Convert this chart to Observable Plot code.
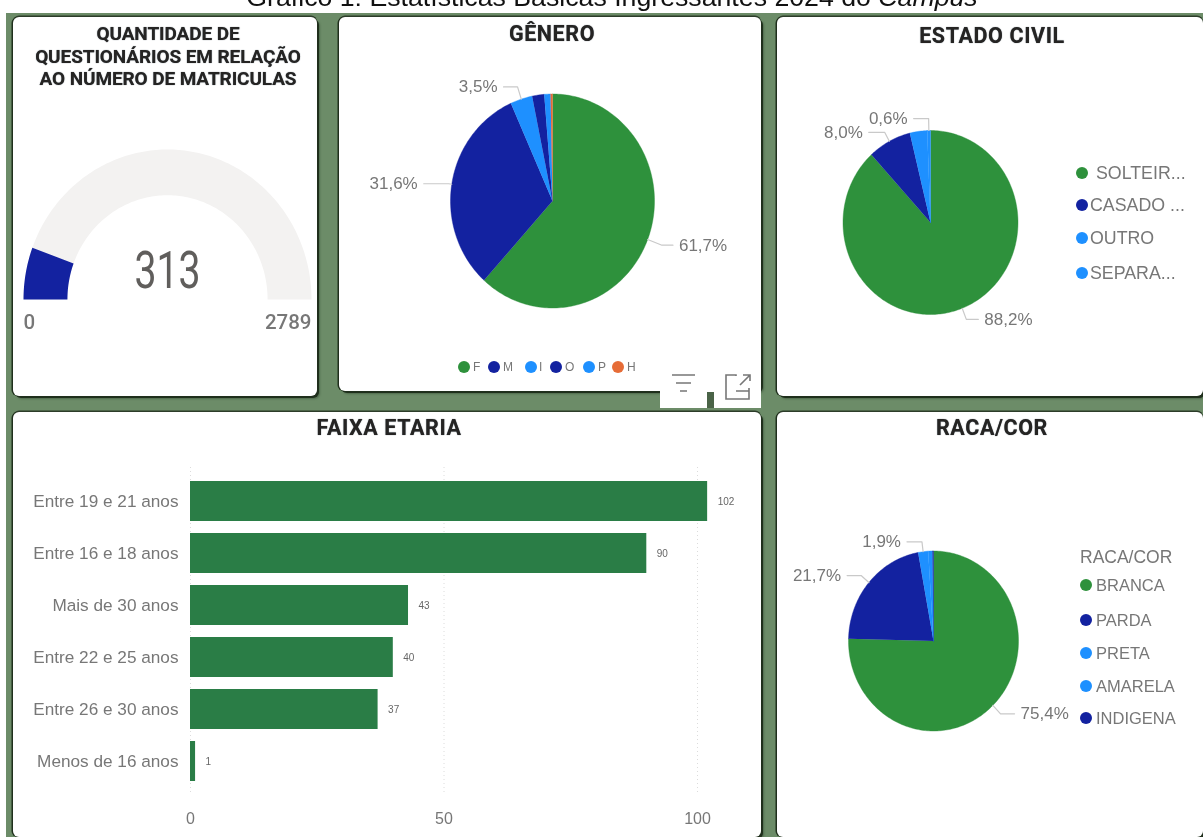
<!DOCTYPE html>
<html lang="pt-BR">
<head>
<meta charset="utf-8">
<script src="https://cdn.jsdelivr.net/npm/d3@7"></script>
<script src="https://cdn.jsdelivr.net/npm/@observablehq/plot@0.6"></script>
<style>
html,body{margin:0;padding:0;background:#fff;overflow:hidden}
#page{position:relative;width:1203px;height:837px;overflow:hidden;font-family:"Liberation Sans",Arial,sans-serif;filter:blur(.45px)}
#heading{position:absolute;left:0;width:1224px;top:-18px;text-align:center;font-size:26.7px;line-height:30px;color:#111;white-space:nowrap}
#frame{position:absolute;left:6px;top:13px;right:0;bottom:0;background:#6c8c68}
.panel{position:absolute;background:#fff;border-radius:6px;box-shadow:-1.5px 0 0 #1f2f1c,0 -1.5px 0 #2c3c29,2px 2px 0 #1f2f1c,3px 3px 2px #4f6a4c;overflow:hidden}
.panel svg{position:absolute;left:0;top:0;overflow:visible}
.ttl{position:absolute;left:4px;right:0;text-align:center;font-family:Roboto,sans-serif;font-weight:700;color:#252423;font-size:21.5px;letter-spacing:.6px;line-height:22px;white-space:pre;text-shadow:0 0 1px #55606a}
.ld{position:absolute;border-radius:50%}
.lt{position:absolute;color:#777;white-space:nowrap;transform:translateY(-50%)}
</style>
</head>
<body>
<div id="page">
<div id="heading">Gráfico 1: Estatísticas Básicas Ingressantes 2024 do <i>Campus</i></div>
<div id="frame"></div>
</div>
<script>
// ---------- data ----------
const gaugeValue = 313;
const gaugeMax = 2789;

const generoCats = ["F","M","I","O","P","H"];
const generoVals = [61.7,31.6,3.5,1.9,1.0,0.3];
const generoCols = ["#2e913c","#1322a0","#1e90ff","#1322a0","#1e90ff","#e66c37"];
const generoLabels = ["61,7%","31,6%","3,5%","","",""];

const civilCats = ["SOLTEIR...","CASADO ...","OUTRO","SEPARA..."];
const civilVals = [88.2,8.0,3.2,0.6];
const civilCols = ["#2e913c","#1322a0","#1e90ff","#1e90ff"];
const civilLabels = ["88,2%","8,0%","","0,6%"];

const racaCats = ["BRANCA","PARDA","PRETA","AMARELA","INDIGENA"];
const racaVals = [75.4,21.7,1.9,0.8,0.2];
const racaCols = ["#2e913c","#1322a0","#1e90ff","#1e90ff","#1322a0"];
const racaLabels = ["75,4%","21,7%","1,9%","",""];

const faixaCats = ["Entre 19 e 21 anos","Entre 16 e 18 anos","Mais de 30 anos","Entre 22 e 25 anos","Entre 26 e 30 anos","Menos de 16 anos"];
const faixaVals = [102,90,43,40,37,1];
const faixaTicks = [0,50,100];

// ---------- helpers ----------
const page = document.getElementById("page");
const GRAY = "#777";
const FONT = '"Liberation Sans",Arial,sans-serif';

function panel(x,y,w,h){
  const d=document.createElement("div");
  d.className="panel";
  Object.assign(d.style,{left:x+"px",top:y+"px",width:w+"px",height:h+"px"});
  page.appendChild(d);
  return d;
}
function title(p,text,top,extra){
  const d=document.createElement("div");
  d.className="ttl"; d.textContent=text; d.style.top=top+"px";
  if(extra) Object.assign(d.style,extra);
  p.appendChild(d);
}
function legendRow(p,label,col,dx,dy,tx,r,fs){
  const c=document.createElement("div");
  c.className="ld";
  Object.assign(c.style,{left:(dx-r)+"px",top:(dy-r)+"px",width:2*r+"px",height:2*r+"px",background:col});
  p.appendChild(c);
  const t=document.createElement("div");
  t.className="lt"; t.textContent=label;
  Object.assign(t.style,{left:tx+"px",top:dy+"px",fontSize:fs+"px"});
  p.appendChild(t);
}
// polygon in unit coordinates; angle clockwise from the top
function ring(a0,a1,inner){
  const pts=[], n=Math.max(2,Math.ceil((a1-a0)/0.02));
  for(let i=0;i<=n;i++){const a=a0+(a1-a0)*i/n;pts.push({x:Math.sin(a),y:Math.cos(a)});}
  if(inner===0) pts.push({x:0,y:0});
  else for(let i=n;i>=0;i--){const a=a0+(a1-a0)*i/n;pts.push({x:inner*Math.sin(a),y:inner*Math.cos(a)});}
  return pts;
}
function pie(p,o){
  const total=d3.sum(o.vals), marks=[];
  let c=0;
  o.vals.forEach((v,i)=>{
    const a0=c/total*2*Math.PI, a1=(c+v)/total*2*Math.PI; c+=v;
    marks.push(Plot.line(ring(a0,a1,0),{x:"x",y:"y",fill:o.cols[i],stroke:o.cols[i],strokeWidth:.4,curve:"linear"}));
    if(!o.labels[i]) return;
    const m=(a0+a1)/2, el=o.elbow[i], run=o.run[i]/o.rx;
    const ex=el*Math.sin(m), ey=el*Math.cos(m);
    const side=run>0?1:-1;
    marks.push(Plot.line([{x:Math.sin(m),y:Math.cos(m)},{x:ex,y:ey},{x:ex+run,y:ey}],
      {x:"x",y:"y",stroke:"#c9c9c9",strokeWidth:1.2,curve:"linear"}));
    marks.push(Plot.text([{x:ex+run,y:ey,t:o.labels[i]}],
      {x:"x",y:"y",text:"t",dx:side*6,textAnchor:side>0?"start":"end",fontSize:17,fill:GRAY,fontFamily:FONT}));
  });
  p.appendChild(Plot.plot({
    width:o.w,height:o.h,margin:0,
    x:{axis:null,domain:[-1,1],range:[o.cx-o.rx,o.cx+o.rx]},
    y:{axis:null,domain:[-1,1],range:[o.cy+o.ry,o.cy-o.ry]},
    style:{background:"transparent"},
    marks
  }));
}

// ---------- gauge ----------
{
  const px=13,py=17,w=304,h=379;
  const p=panel(px,py,w,h);
  const frac=gaugeValue/gaugeMax*Math.PI;
  const start=-Math.PI/2, end=Math.PI/2;
  const chart=Plot.plot({
    width:w,height:h,margin:0,
    x:{axis:null,domain:[-1,1],range:[23-px,311-px]},
    y:{axis:null,domain:[0,1],range:[299-py,149-py]},
    style:{background:"transparent"},
    marks:[
      Plot.line(ring(start,end,0.695),{x:"x",y:"y",fill:"#f3f2f1",stroke:"none",curve:"linear"}),
      Plot.line(ring(start,start+frac,0.695),{x:"x",y:"y",fill:"#1322a0",stroke:"none",curve:"linear"}),
      Plot.text([gaugeValue],{x:0,y:0.185,text:d=>String(d),fontSize:51,fontWeight:400,fill:"#605e5c",fontFamily:"Roboto,sans-serif"}),
      Plot.text([0],{x:-1,y:-0.153,text:d=>String(d),textAnchor:"start",fontSize:20.5,fontWeight:500,fill:"#777",fontFamily:"Roboto,sans-serif"}),
      Plot.text([gaugeMax],{x:1,y:-0.153,text:d=>String(d),textAnchor:"end",fontSize:20.5,fontWeight:500,fill:"#777",fontFamily:"Roboto,sans-serif"})
    ]
  });
  // the dial number is set in a condensed width
  d3.select(chart).selectAll("text").filter(function(){return this.textContent===String(gaugeValue);})
    .attr("textLength",66).attr("lengthAdjust","spacingAndGlyphs");
  p.appendChild(chart);
  title(p,"QUANTIDADE DE\nQUESTIONÁRIOS EM RELAÇÃO\nAO NÚMERO DE MATRICULAS",6,{lineHeight:"22.5px",fontSize:"19px",letterSpacing:"-.1px",left:"6px"});
}

// ---------- gênero ----------
{
  const px=339,py=17,w=422,h=374;
  const p=panel(px,py,w,h);
  title(p,"GÊNERO",6);
  pie(p,{w,h,cx:552-px,cy:200.5-py,rx:102,ry:107,vals:generoVals,cols:generoCols,labels:generoLabels,
    elbow:[1.15,1.03,1.12,0,0,0],run:[11,-25,-14,0,0,0]});
  const xs=[464,494,531,556,589,618], tx=[473,503,539,565,598,627];
  generoCats.forEach((c,i)=>legendRow(p,c,generoCols[i],xs[i]-px,367-py,tx[i]-px,6,12));
}
// toolbar patch under the gênero card
{
  const b=document.createElement("div");
  Object.assign(b.style,{position:"absolute",left:"660px",top:"378px",width:"101px",height:"30px",background:"#fff"});
  page.appendChild(b);
  const n=document.createElement("div");
  Object.assign(n.style,{position:"absolute",left:"707px",top:"392px",width:"7px",height:"16px",background:"#4a6347"});
  page.appendChild(n);
  const ns="http://www.w3.org/2000/svg";
  const s=document.createElementNS(ns,"svg");
  s.setAttribute("width","101");s.setAttribute("height","30");
  s.style.cssText="position:absolute;left:660px;top:370px;overflow:visible";
  s.innerHTML='<g stroke="#777" stroke-width="1.6" fill="none"><path d="M12 5H35M16 13H31M20 21H27"/>'+
    '<path d="M76 6V5H66V29H89V18M76 21H89M80 15L90 5M83 5H90V11"/></g>';
  page.appendChild(s);
}

// ---------- estado civil ----------
{
  const px=777,py=17,w=426,h=379;
  const p=panel(px,py,w,h);
  title(p,"ESTADO CIVIL",8);
  pie(p,{w,h,cx:930-px,cy:222-py,rx:87.5,ry:92,vals:civilVals,cols:civilCols,labels:civilLabels,
    elbow:[1.13,1.11,0,1.13],run:[12,-16,0,-15]});
  const ys=[173,205,238,273], tx=[1096,1090,1090,1090];
  civilCats.forEach((c,i)=>legendRow(p,c,civilCols[i],1082-px,ys[i]-py,tx[i]-px,6,17.8));
}

// ---------- faixa etária ----------
{
  const px=13,py=412,w=748,h=425;
  const p=panel(px,py,w,h);
  title(p,"FAIXA ETARIA",5);
  const rows=faixaCats.map((c,i)=>({c,v:faixaVals[i]}));
  p.appendChild(Plot.plot({
    width:w,height:h,marginLeft:177,marginRight:20,marginTop:55,marginBottom:43,
    x:{domain:[0,100],range:[190-px,697-px],label:null},
    y:{domain:faixaCats,range:[467.6-py,794.4-py],padding:0.237,label:null},
    style:{background:"transparent",fontFamily:FONT,fontSize:"16px",color:GRAY},
    marks:[
      Plot.gridX(faixaTicks,{stroke:"#dcdcdc",strokeOpacity:1,strokeDasharray:"1,3"}),
      Plot.barX(rows,{y:"c",x:"v",fill:"#2a7d46"}),
      Plot.text(rows,{y:"c",x:"v",text:d=>String(d.v),dx:10,textAnchor:"start",fontSize:10,fill:"#666",letterSpacing:"-1px"}),
      Plot.axisY({tickSize:0,tickPadding:12,fill:GRAY,label:null,fontSize:17.2}),
      Plot.axisX({ticks:faixaTicks,tickSize:0,tickPadding:18,fill:GRAY,label:null,fontSize:16})
    ]
  }));
}

// ---------- raça/cor ----------
{
  const px=777,py=412,w=426,h=425;
  const p=panel(px,py,w,h);
  title(p,"RACA/COR",5);
  pie(p,{w,h,cx:933-px,cy:640.5-py,rx:85,ry:90,vals:racaVals,cols:racaCols,labels:racaLabels,
    elbow:[1.13,1.12,1.11,0,0],run:[14,-14,-15,0,0]});
  const t=document.createElement("div");
  t.className="lt"; t.textContent="RACA/COR";
  Object.assign(t.style,{left:(1080-px)+"px",top:(557-py)+"px",fontSize:"17.5px"});
  p.appendChild(t);
  const ys=[585,620,653,686,718];
  racaCats.forEach((c,i)=>legendRow(p,c,racaCols[i],1086-px,ys[i]-py,1096-px,6,16.5));
}
</script>
</body>
</html>
